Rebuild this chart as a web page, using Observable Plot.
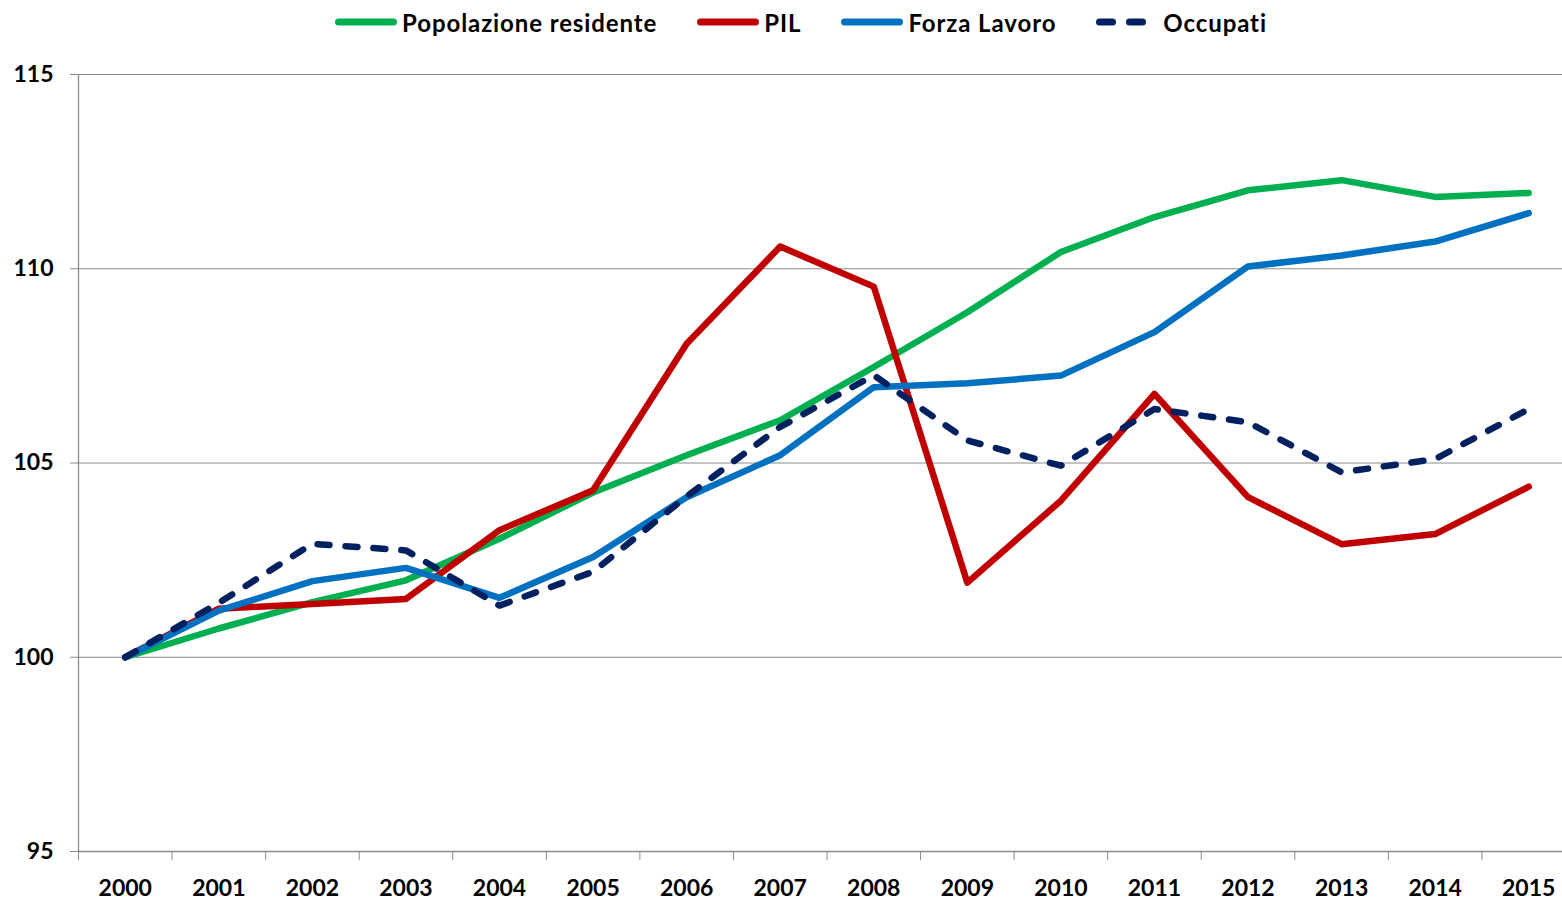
<!DOCTYPE html>
<html>
<head>
<meta charset="utf-8">
<script src="https://cdn.jsdelivr.net/npm/d3@7"></script>
<script src="https://cdn.jsdelivr.net/npm/@observablehq/plot@0.6"></script>
<style>
  html, body { margin: 0; padding: 0; background: #fff; overflow: hidden; }
  #legend { height: 44px; display: flex; align-items: center; justify-content: center;
            font-family: Lato, "Liberation Sans", sans-serif; font-weight: bold; font-size: 24px; letter-spacing: 0.9px; color: #000;
            padding-left: 40px; box-sizing: border-box; width: 1562px; }
  .item { display: flex; align-items: center; margin: 0 20px; }
  .item svg { margin-right: 5px; }
</style>
</head>
<body>
<div id="legend"></div>
<div id="chart"></div>
<script>
const years = [2000, 2001, 2002, 2003, 2004, 2005, 2006, 2007, 2008, 2009, 2010, 2011, 2012, 2013, 2014, 2015];
const popolazione = [100, 100.74, 101.42, 101.98, 103.05, 104.24, 105.2, 106.1, 107.47, 108.88, 110.43, 111.33, 112.02, 112.28, 111.85, 111.95];
const pil = [100, 101.25, 101.37, 101.5, 103.27, 104.3, 108.07, 110.57, 109.54, 101.92, 104.03, 106.78, 104.12, 102.91, 103.17, 104.39];
const forzaLavoro = [100, 101.2, 101.96, 102.3, 101.53, 102.58, 104.12, 105.2, 106.95, 107.05, 107.25, 108.37, 110.06, 110.34, 110.7, 111.43];
const occupati = [100, 101.4, 102.92, 102.75, 101.33, 102.2, 104.14, 105.93, 107.26, 105.58, 104.93, 106.39, 106.05, 104.76, 105.1, 106.39];
const yTicks = [95, 100, 105, 110, 115];

const seriesNames = ["Popolazione residente", "PIL", "Forza Lavoro", "Occupati"];
const seriesColors = ["#00B050", "#C00000", "#0070C0", "#002060"];
const seriesValues = [popolazione, pil, forzaLavoro, occupati];
const seriesDash = [null, null, null, "12,16"];

// Legend
const legend = document.getElementById("legend");
seriesNames.forEach((name, i) => {
  const item = document.createElement("div");
  item.className = "item";
  const dash = seriesDash[i] ? ` stroke-dasharray="13,17"` : "";
  item.innerHTML = `<svg width="62" height="10"><line x1="3.5" x2="58.5" y1="5" y2="5" stroke="${seriesColors[i]}" stroke-width="7" stroke-linecap="round"${dash}/></svg><span>${name}</span>`;
  legend.appendChild(item);
});

const boundaries = [1999.5].concat(years.slice(0, -1).map(d => d + 0.5));
const axisColor = "#8c8c8c";

const lineMarks = seriesValues.map((vals, i) =>
  Plot.lineY(years.map((y, j) => ({year: y, value: vals[j]})), {
    x: "year", y: "value", stroke: seriesColors[i], strokeWidth: 6.5,
    strokeLinecap: "round", strokeLinejoin: "round",
    strokeDasharray: seriesDash[i] || undefined
  })
);

const chart = Plot.plot({
  width: 1562,
  height: 856,
  marginTop: 30,
  marginBottom: 49,
  marginLeft: 78,
  marginRight: 0,
  x: {domain: [1999.5, 2015.5], range: [78, 1575]},
  y: {domain: [95, 115]},
  style: {fontFamily: "Lato, 'Liberation Sans', sans-serif", fontWeight: "bold", fontSize: "23px", color: "#000", overflow: "visible", background: "#fff"},
  marks: [
    Plot.ruleY(yTicks.slice(1), {stroke: axisColor, strokeWidth: 1}),
    Plot.ruleY([95], {stroke: axisColor, strokeWidth: 1.3}),
    Plot.ruleX([1999.5], {stroke: axisColor, strokeWidth: 1.3}),
    Plot.axisY({ticks: yTicks, tickSize: 8, tickPadding: 17, stroke: axisColor, fill: "#000", fontSize: 23, label: null}),
    Plot.axisX({ticks: boundaries, tickSize: 9, tickFormat: () => "", stroke: axisColor, label: null}),
    Plot.axisX({ticks: years, tickSize: 0, tickPadding: 28, tickFormat: d => String(d), fill: "#000", fontSize: 23, label: null}),
    ...lineMarks
  ]
});
document.getElementById("chart").appendChild(chart);
</script>
</body>
</html>
